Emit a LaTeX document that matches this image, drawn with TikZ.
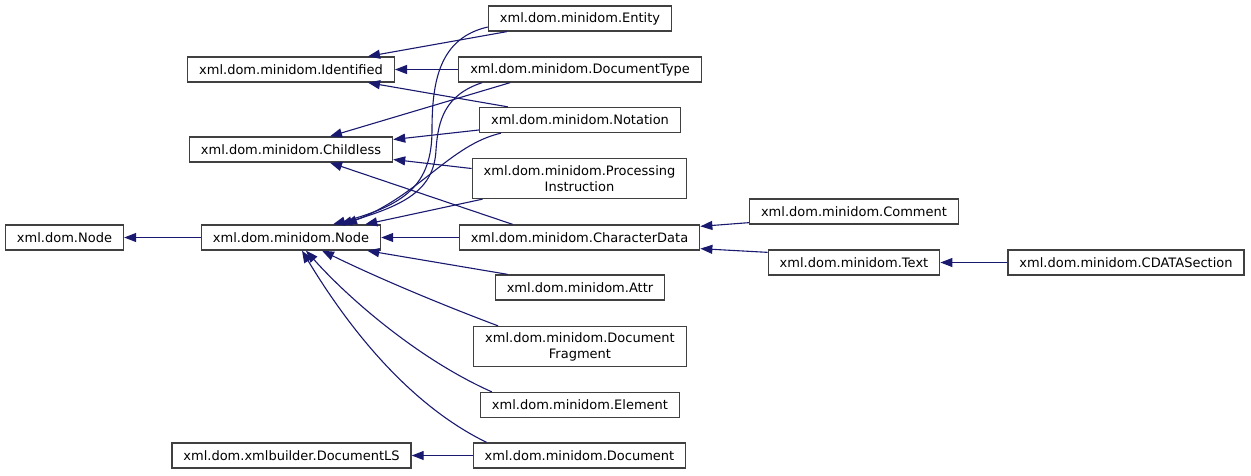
\documentclass[tikz,border=0pt]{standalone}
\usepackage{fontspec}
\setmainfont{DejaVu Sans}
\usepackage{tikz}
\usetikzlibrary{
	arrows.meta,
	calc,
	positioning
}
\definecolor{EdgeBlue}{RGB}{25,25,112}
\definecolor{BoxGray}{RGB}{64,64,64}

\begin{document}
\begin{tikzpicture}[x=1pt, y=-1pt,
		cls/.style={draw=BoxGray, line width=1.3pt, fill=white, inner xsep=11.5pt, inner ysep=2pt,
			minimum height=25pt, align=center, font=\fontsize{13pt}{16pt}\selectfont},
		edge/.style={EdgeBlue, line width=1.1pt, -{Triangle[length=12pt,width=9pt]}}]
		\useasboundingbox (0,0) rectangle (1251,475);
		% left column
		\node[cls] (dnode) at (64.5,237.5) {xml.dom.Node};
		\node[cls] (mnode) at (291,237.5) {xml.dom.minidom.Node};
		\node[cls] (ident) at (291,69.5) {xml.dom.minidom.Identified};
		\node[cls] (childless) at (291,149.5) {xml.dom.minidom.Childless};
		\node[cls] (docls) at (291.5,455.5) {xml.dom.xmlbuilder.DocumentLS};
		% middle column
		\node[cls] (entity) at (580,18.5) {xml.dom.minidom.Entity};
		\node[cls] (doctype) at (580,69.5) {xml.dom.minidom.DocumentType};
		\node[cls] (notation) at (580,120) {xml.dom.minidom.Notation};
		\node[cls, minimum height=40pt] (procinst) at (579.5,178.5) {xml.dom.minidom.Processing\\Instruction};
		\node[cls] (chardata) at (579.5,237.5) {xml.dom.minidom.CharacterData};
		\node[cls] (attr) at (580,287.5) {xml.dom.minidom.Attr};
		\node[cls, minimum height=40pt] (docfrag) at (580,346.5) {xml.dom.minidom.Document\\Fragment};
		\node[cls] (element) at (580,405) {xml.dom.minidom.Element};
		\node[cls] (document) at (579.5,455.5) {xml.dom.minidom.Document};
		% right columns
		\node[cls] (comment) at (854,211.5) {xml.dom.minidom.Comment};
		\node[cls] (text) at (854,262.5) {xml.dom.minidom.Text};
		\node[cls] (cdata) at (1126,262.5) {xml.dom.minidom.CDATASection};

		% inheritance, arrow points to the base class
		\draw[edge] (mnode.west) -- (dnode.east);
		\draw[edge] ([xshift=19pt]entity.south west) -- ([xshift=-27pt]ident.north east);
		\draw[edge] (doctype.west) -- (ident.east);
		\draw[edge] ([xshift=29pt]notation.north west) -- ([xshift=-27pt]ident.south east);
		\draw[edge] ([xshift=52pt]doctype.south west) -- ([xshift=39pt]childless.north);
		\draw[edge] ([yshift=-10pt]notation.west) -- ([yshift=10pt]childless.east);
		\draw[edge] ([yshift=10pt]procinst.west) -- ([yshift=-10pt]childless.east);
		\draw[edge] ([xshift=54pt]chardata.north west) -- ([xshift=39pt]childless.south);
		\draw[edge] ([yshift=-8.5pt]entity.west) .. controls (440,38) and (432,80) .. (432,130)
			.. controls (432,185) and (405,205) .. ([xshift=42pt]mnode.north);
		\draw[edge] ([xshift=24pt]doctype.south west) .. controls (445,95) and (438,120) .. (436,150)
			.. controls (434,190) and (405,205) .. ([xshift=49pt]mnode.north);
		\draw[edge] ([xshift=22pt]notation.south west) .. controls (450,145) and (420,195) .. ([xshift=54pt]mnode.north);
		\draw[edge] ([xshift=11pt]procinst.south west) -- ([xshift=-16pt]mnode.north east);
		\draw[edge] (chardata.west) -- (mnode.east);
		\draw[edge] ([xshift=13pt]attr.north west) -- ([xshift=-14pt]mnode.south east);
		\draw[edge] ([xshift=25pt]docfrag.north west) .. controls (440,304) and (378,278) .. ([xshift=31pt]mnode.south);
		\draw[edge] ([xshift=12pt]element.north west) .. controls (420,360) and (350,300) .. ([xshift=15pt]mnode.south);
		\draw[edge] ([xshift=14pt]document.north west) .. controls (410,405) and (350,330) .. ([xshift=11pt]mnode.south);
		\draw[edge] (document.west) -- (docls.east);
		\draw[edge] ([yshift=2pt]comment.south west) -- ([yshift=-2pt]chardata.north east);
		\draw[edge] ([yshift=-3pt]text.north west) -- ([yshift=2pt]chardata.south east);
		\draw[edge] (cdata.west) -- (text.east);
	\end{tikzpicture}
\end{document}
